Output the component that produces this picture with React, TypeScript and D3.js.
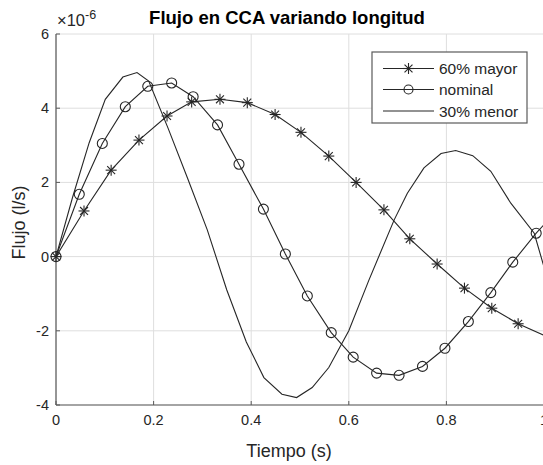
import React from "react";
import * as d3 from "d3";

// values (x in s, y in units of 1e-6 l/s)
const T_MAYOR = [0, 0.0574, 0.113, 0.17, 0.2275, 0.278, 0.336, 0.392, 0.449, 0.502, 0.559, 0.615, 0.672, 0.725, 0.781, 0.837, 0.893, 0.947, 1.0];
const Y_MAYOR = [0, 1.23, 2.33, 3.14, 3.79, 4.17, 4.24, 4.15, 3.83, 3.35, 2.71, 2.0, 1.26, 0.48, -0.2, -0.85, -1.39, -1.81, -2.12];

const T_NOMINAL = [0, 0.0477, 0.0949, 0.142, 0.188, 0.237, 0.281, 0.331, 0.375, 0.425, 0.47, 0.515, 0.564, 0.609, 0.657, 0.703, 0.751, 0.797, 0.845, 0.891, 0.936, 0.984, 1.0];
const Y_NOMINAL = [0, 1.68, 3.05, 4.04, 4.59, 4.68, 4.31, 3.55, 2.49, 1.28, 0.07, -1.06, -2.05, -2.71, -3.14, -3.2, -2.96, -2.47, -1.75, -0.97, -0.15, 0.63, 0.86];

const T_MENOR = [0, 0.034, 0.068, 0.101, 0.137, 0.166, 0.19, 0.23, 0.27, 0.31, 0.35, 0.39, 0.426, 0.463, 0.493, 0.525, 0.559, 0.6, 0.641, 0.693, 0.72, 0.754, 0.789, 0.819, 0.854, 0.891, 0.932, 0.98, 1.0];
const Y_MENOR = [0, 1.6, 3.07, 4.24, 4.84, 4.96, 4.73, 3.45, 2.1, 0.72, -0.9, -2.3, -3.26, -3.71, -3.8, -3.53, -2.99, -2.0, -0.64, 0.99, 1.71, 2.39, 2.78, 2.86, 2.72, 2.3, 1.44, 0.63, -0.28];

const X_TICKS = [0, 0.2, 0.4, 0.6, 0.8, 1];
const Y_TICKS = [-4, -2, 0, 2, 4, 6];
const LEGEND = ["60% mayor", "nominal", "30% menor"];

const W = 543;
const H = 465;
const FONT = "'Liberation Sans', Arial, Helvetica, sans-serif";
const INK = "#262626";
const AXIS = "#5a5a5a";
const GRID = "#dedede";

const x = d3.scaleLinear().domain([0, 1]).range([56, 544]);
const y = d3.scaleLinear().domain([-4, 6]).range([405, 34]);

const line = d3
  .line<[number, number]>()
  .x((d) => x(d[0]))
  .y((d) => y(d[1]));

const zip = (t: number[], v: number[]): [number, number][] => t.map((ti, i) => [ti, v[i]]);

const Star = ({ cx, cy, r = 5.5 }: { cx: number; cy: number; r?: number }) => {
  const d = r * 0.72;
  return (
    <g stroke={INK} strokeWidth={1.1}>
      <line x1={cx - r} y1={cy} x2={cx + r} y2={cy} />
      <line x1={cx} y1={cy - r} x2={cx} y2={cy + r} />
      <line x1={cx - d} y1={cy - d} x2={cx + d} y2={cy + d} />
      <line x1={cx - d} y1={cy + d} x2={cx + d} y2={cy - d} />
    </g>
  );
};

const Circle = ({ cx, cy, r = 5 }: { cx: number; cy: number; r?: number }) => (
  <circle cx={cx} cy={cy} r={r} fill="none" stroke={INK} strokeWidth={1.1} />
);

export default function App() {
  const [x0, x1] = x.range();
  const [yb, yt] = y.range();
  const mayor = zip(T_MAYOR, Y_MAYOR);
  const nominal = zip(T_NOMINAL, Y_NOMINAL);
  const menor = zip(T_MENOR, Y_MENOR);

  // legend box
  const lg = { x: 372, y: 52, w: 155, h: 71 };
  const rows = [68.5, 89.5, 111];

  return (
    <svg
      width={W}
      height={H}
      style={{ position: "absolute", left: 0, top: 0, background: "#fff" }}
      fontFamily={FONT}
    >
      <rect width={W} height={H} fill="#fff" />

      {/* grid */}
      {X_TICKS.map((t) => (
        <line key={"gx" + t} x1={x(t)} x2={x(t)} y1={yb} y2={yt} stroke={GRID} strokeWidth={1} />
      ))}
      {Y_TICKS.map((t) => (
        <line key={"gy" + t} x1={x0} x2={x1} y1={y(t)} y2={y(t)} stroke={GRID} strokeWidth={1} />
      ))}

      {/* axes */}
      <line x1={x0} x2={x1} y1={yb} y2={yb} stroke={AXIS} strokeWidth={1.2} />
      <line x1={x0} x2={x0} y1={yb} y2={yt} stroke={AXIS} strokeWidth={1.2} />
      {X_TICKS.map((t) => (
        <g key={"xt" + t}>
          <line x1={x(t)} x2={x(t)} y1={yb} y2={yb - 4} stroke={AXIS} />
          <text x={x(t)} y={yb + 20} textAnchor="middle" fontSize={14.5} fill={INK}>
            {t}
          </text>
        </g>
      ))}
      {Y_TICKS.map((t) => (
        <g key={"yt" + t}>
          <line x1={x0} x2={x0 + 4} y1={y(t)} y2={y(t)} stroke={AXIS} />
          <text x={x0 - 7} y={y(t) + 5} textAnchor="end" fontSize={14.5} fill={INK}>
            {t}
          </text>
        </g>
      ))}

      {/* exponent */}
      <text x={57} y={26} fontSize={16.5} fill={INK}>
        ×10
        <tspan dy={-7} fontSize={12.5}>
          -6
        </tspan>
      </text>

      {/* series */}
      <path d={line(menor) ?? ""} fill="none" stroke={INK} strokeWidth={1.1} />
      <path d={line(nominal) ?? ""} fill="none" stroke={INK} strokeWidth={1.1} />
      <path d={line(mayor) ?? ""} fill="none" stroke={INK} strokeWidth={1.1} />
      {nominal
        .filter((d) => d[0] < 0.995)
        .map((d, i) => (
          <Circle key={"c" + i} cx={x(d[0])} cy={y(d[1])} />
        ))}
      {mayor
        .filter((d) => d[0] < 0.995)
        .map((d, i) => (
          <Star key={"s" + i} cx={x(d[0])} cy={y(d[1])} />
        ))}

      {/* title and labels */}
      <text x={287} y={24} textAnchor="middle" fontSize={18.5} fontWeight="bold" fill="#000">
        Flujo en CCA variando longitud
      </text>
      <text x={289} y={457} textAnchor="middle" fontSize={18} fill={INK}>
        Tiempo (s)
      </text>
      <text
        transform={`translate(25,${(yb + yt) / 2 + 3}) rotate(-90)`}
        textAnchor="middle"
        fontSize={18}
        fill={INK}
      >
        Flujo (l/s)
      </text>

      {/* legend */}
      <rect x={lg.x} y={lg.y} width={lg.w} height={lg.h} fill="#fff" stroke={AXIS} strokeWidth={1.2} />
      {LEGEND.map((name, i) => (
        <g key={name}>
          <line x1={383} x2={434} y1={rows[i]} y2={rows[i]} stroke={INK} strokeWidth={1.1} />
          {i === 0 && <Star cx={408.5} cy={rows[i]} />}
          {i === 1 && <Circle cx={408.5} cy={rows[i]} r={4.5} />}
          <text x={439} y={rows[i] + 5.5} fontSize={15.5} fill={INK}>
            {name}
          </text>
        </g>
      ))}
    </svg>
  );
}
